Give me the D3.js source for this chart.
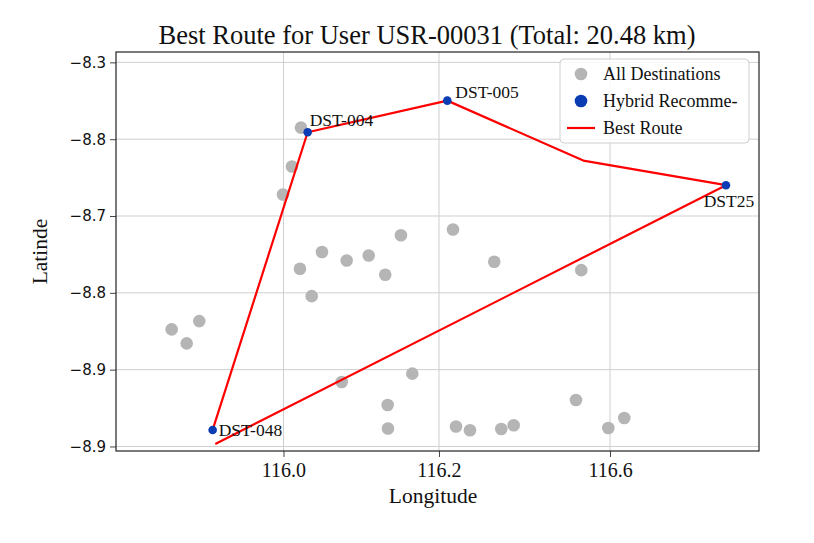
<!DOCTYPE html>
<html>
<head>
<meta charset="utf-8">
<script src="https://cdn.jsdelivr.net/npm/d3@7"></script>
<style>
  body { margin: 0; background: #fff; }
  svg text { font-family: "Liberation Serif", "Times New Roman", serif; fill: #111; }
  .y.axis text { font-family: "DejaVu Sans", sans-serif; }
</style>
</head>
<body>
<svg id="chart" width="814" height="543"></svg>
<script>
// ---- data
const allLon = [116.0225, 116.0109, 115.9994, 116.0495, 116.0813, 116.1096, 116.1511, 116.2180,
                116.0212, 116.1309, 116.0363, 115.8562, 115.8917, 115.8755, 116.1657, 116.0749,
                116.1340, 116.1344, 116.2219, 116.2399, 116.2711, 116.3830, 116.3762, 116.2801,
                116.2961, 116.4178, 116.4383];
const allLat = [-8.3849, -8.4356, -8.4720, -8.5468, -8.5579, -8.5514, -8.5250, -8.5176,
                -8.5687, -8.5765, -8.6043, -8.6476, -8.6368, -8.6658, -8.7052, -8.7161,
                -8.7460, -8.7767, -8.7741, -8.7789, -8.5596, -8.5705, -8.7395, -8.7772,
                -8.7724, -8.7759, -8.7629];

const recNames = ["DST-048", "DST-004", "DST-005", "DST25"];
const recLon = [115.9089, 116.0311, 116.2107, 116.5691];
const recLat = [-8.7785, -8.3910, -8.3498, -8.4599];

const routeLon = [115.9089, 116.0311, 116.2107, 116.3856, 116.5691, 115.9123];
const routeLat = [-8.7785, -8.3910, -8.3498, -8.4278, -8.4599, -8.7967];

const xTickValues = [116.0, 116.2, 116.42];
const xTickLabels = ["116.0", "116.2", "116.6"];
const yTickValues = [-8.3, -8.4, -8.5, -8.6, -8.7, -8.8];
const yTickLabels = ["\u22128.3", "\u22128.8", "\u22128.7", "\u22128.8", "\u22128.9", "\u22128.9"];

// ---- layout
var margin = {top: 52, right: 55, bottom: 92, left: 116},
    width = 814 - margin.left - margin.right,
    height = 543 - margin.top - margin.bottom;

var svg = d3.select("#chart");
var g = svg.append("g")
    .attr("transform", "translate(" + margin.left + "," + margin.top + ")");

var x = d3.scaleLinear().domain([115.7846, 116.6116]).range([0, width]);
var y = d3.scaleLinear().domain([-8.2865, -8.8059]).range([0, height]);

// grid
g.append("g").selectAll("line").data(xTickValues).enter().append("line")
    .attr("x1", d => x(d)).attr("x2", d => x(d))
    .attr("y1", 0).attr("y2", height)
    .attr("stroke", "#cfcfcf").attr("stroke-width", 1);
g.append("g").selectAll("line").data(yTickValues).enter().append("line")
    .attr("y1", d => y(d)).attr("y2", d => y(d))
    .attr("x1", 0).attr("x2", width)
    .attr("stroke", "#cfcfcf").attr("stroke-width", 1);

// axes
var xAxis = d3.axisBottom(x).tickValues(xTickValues).tickSize(6).tickPadding(6)
    .tickFormat((d, i) => xTickLabels[i]);
var yAxis = d3.axisLeft(y).tickValues(yTickValues).tickSize(6).tickPadding(4)
    .tickFormat((d, i) => yTickLabels[i]);

var gx = g.append("g").attr("class", "x axis")
    .attr("transform", "translate(0," + height + ")").call(xAxis);
var gy = g.append("g").attr("class", "y axis").call(yAxis);
[gx, gy].forEach(a => {
    a.select(".domain").remove();
    a.selectAll(".tick line").attr("stroke", "#444");
    a.selectAll(".tick text").attr("fill", "#111");
});
gx.selectAll(".tick text").attr("font-size", 20);
gy.selectAll(".tick text").attr("font-size", 15);

// frame
g.append("rect").attr("width", width).attr("height", height)
    .attr("fill", "none").attr("stroke", "#222").attr("stroke-width", 1.2);

// all destinations
g.append("g").selectAll("circle").data(allLon).enter().append("circle")
    .attr("cx", d => x(d)).attr("cy", (d, i) => y(allLat[i]))
    .attr("r", 6.3).attr("fill", "#b5b5b5");

// route
var route = routeLon.map((d, i) => [x(d), y(routeLat[i])]);
g.append("path").attr("d", d3.line()(route))
    .attr("fill", "none").attr("stroke", "#ff0000").attr("stroke-width", 2.2)
    .attr("stroke-linejoin", "round");

// recommended
g.append("g").selectAll("circle").data(recLon).enter().append("circle")
    .attr("cx", d => x(d)).attr("cy", (d, i) => y(recLat[i]))
    .attr("r", 4.3).attr("fill", "#0a3cb4");

// labels near recommended points
var labelOff = [[6, 6, "start"], [2, -6, "start"], [8, -3, "start"], [3, 22, "middle"]];
g.append("g").selectAll("text").data(recNames).enter().append("text")
    .attr("x", (d, i) => x(recLon[i]) + labelOff[i][0])
    .attr("y", (d, i) => y(recLat[i]) + labelOff[i][1])
    .attr("text-anchor", (d, i) => labelOff[i][2])
    .attr("font-size", 17.5)
    .text(d => d);

// legend
var lg = g.append("g").attr("transform", "translate(" + (560 - margin.left) + "," + (59 - margin.top) + ")");
lg.append("rect").attr("width", 189).attr("height", 84).attr("rx", 4)
    .attr("fill", "rgba(255,255,255,0.85)").attr("stroke", "#d0d0d0");
lg.append("circle").attr("cx", 21).attr("cy", 15).attr("r", 6.3).attr("fill", "#b5b5b5");
lg.append("circle").attr("cx", 21).attr("cy", 42).attr("r", 6.3).attr("fill", "#0a3cb4");
lg.append("line").attr("x1", 7).attr("x2", 35).attr("y1", 69).attr("y2", 69)
    .attr("stroke", "#ff0000").attr("stroke-width", 2.2);
["All Destinations", "Hybrid Recomme-", "Best Route"].forEach((t, i) => {
    lg.append("text").attr("x", 43).attr("y", 15 + i * 27).attr("dy", "0.35em")
        .attr("font-size", 18).text(t);
});

// titles
svg.append("text").attr("x", 427).attr("y", 44).attr("text-anchor", "middle")
    .attr("font-size", 26.5).text("Best Route for User USR-00031 (Total: 20.48 km)");
svg.append("text").attr("x", 433).attr("y", 503).attr("text-anchor", "middle")
    .attr("font-size", 21.5).text("Longitude");
svg.append("text").attr("transform", "translate(47," + (margin.top + height / 2) + ") rotate(-90)")
    .attr("text-anchor", "middle").attr("font-size", 21.5).text("Latinde");
</script>
</body>
</html>
